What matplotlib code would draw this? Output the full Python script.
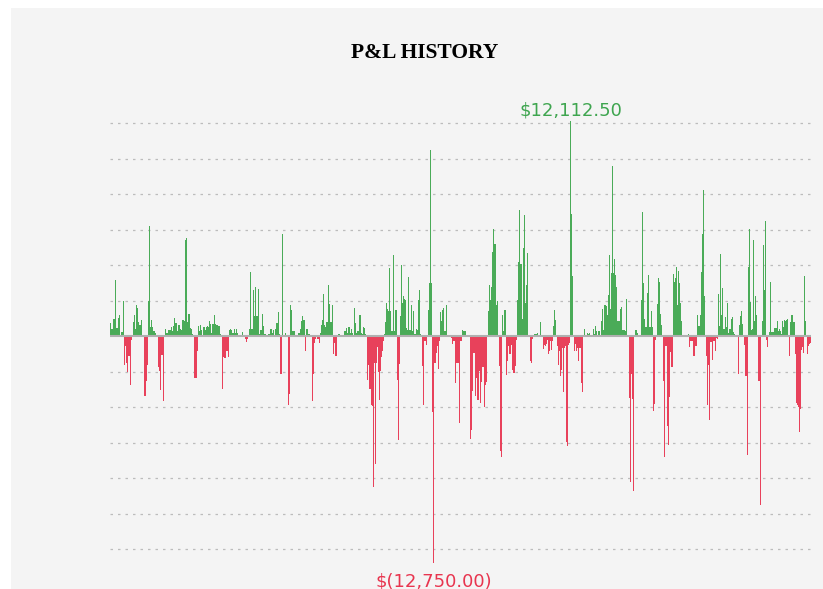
import numpy as np
import matplotlib
matplotlib.use("Agg")
import matplotlib.pyplot as plt
from matplotlib.patches import Rectangle

# ---- data: daily P&L values (USD) left to right ----
pnl_part1 = [
    750, 430, 430, 980, 980, 3180, 470, 470, 1030, 1220, 100, 225, 225, 2010,
    -1640, -530, -1500, -2010, -1130, -1130, -2760, -190, 50,
    810, 1200, 430, 1790, 1620, 790, 660, 660, 920, 90, 0,
    -3380, -3380, -2540, -1600,
    2010, 6190, 510, 920, 545, 320, 280, 190, 90, 60,
    -1750, -1970, -3010, -1070, -1070, -3630, 0,
    430, 190, 190, 360, 360, 360, 510, 280, 560, 1030, 770, 770, 280, 640, 640,
    410, 380, 900, 900, 880, 5430, 5510, 810, 1240, 1240, 470, 410, 130, 60,
    -2350, -2350, -2350, -800,
    580, 280, 620, 375, 60, 545, 510, 375, 510, 560, 510, 880, 700, 190, 700,
    700, 1180, 700, 620, 660, 560, 560, 130, 90,
    -2970, -1180, -1200, -1200,
]
pnl_part2 = [
    -850, -850, -1180,
    340, 430, 340, 190, 190, 430, 190, 430, 190, 60, 60, 60, 60, 225, 60, 90,
    -130, -320, -130, 0,
    430, 3610, 430, 430, 2610, 1150, 2780, 1130, 1130, 2690, 130, 340, 340, 1260,
    560, 130, 130, 60, 40, 130, 130, 430, 430, 190, 340, 90, 430, 750, 750, 1370, 130,
    -2100, -2100,
    5770, 90, 60, 190, 60, 40,
    -3850, -3250,
    1750, 1490, 320, 320, 320, 60, 60, 90, 190, 190, 430, 850, 1130, 920, 900,
    -850,
    410, 410, 130, 130, 90, 90,
    -3630, -2120, -375, -130, 0, -130, -130, -375,
    190, 660, 900, 2400, 660, 545, 810, 810, 2870, 1820, 810, 810, 1750,
    -1000, -375, -1130, -1130, 0,
    130, 130, 60, 60, 0, 0,
]
pnl_part3 = [
    280, 320, 470, 190, 510, 510, 190, 430, 190, 60, 1580, 750, 190, 320, 320,
    1200, 1200, 190, 130, 510, 470, 130, 90,
    -2440, -1600, -2950, -2950, -3890, -3940, -8500, -1500, -7180, -1500, -620,
    -2010, -3570, -1970, -1180, -810, -245,
    130, 810, 1880, 1540, 1450, 3850, 1450, 280, 280, 4570, 280, 1490, 1490,
    -2480, -5830, -1540,
    1130, 4000, 1880, 2260, 2100, 2060, 470, 360, 3360, 360, 360, 1790, 280, 1410,
    130, 130, 430, 360, 2030, 2590, 130, 60,
    -1690, -3850, -245, -245, -470,
    90, 1490, 3010, 10500, 3000,
    -4290, -12750, -1500, -1500, -940, -530, -1820, -245,
    1370, 880, 1490, 1600, 280, 280, 1790, 60, 0, 0, 0,
    -90, -410, -245, -245, -2630, -1500, -1500, -1500, -4890, -245, -245,
]
pnl_part4 = [
    340, 280, 280, 280, 0, 0, 0, 0,
    -5790, -5260, -3060, -940, -940, -3380, -2350, -3570, -3570, -1940, -3760,
    -2600, -1750, -1750, -4000, -2730, -2600,
    0, 1410, 2900, 2030, 2800, 4740, 6020, 5210, 5210, 1750, 1990, 0,
    -1690, -6490, -6810,
    1220, 320, 1470, 1470,
    -2160, -1370, -560, -980, -980, -470, -1880, -2070, -2070, -1690, -225,
    2070, 4190, 7090, 4080, 4080, 1000, 4980, 6860, 1880, 2870, 4700, 60, 60,
    -1370, -1500, -130, 0,
    130, 130, 130, 190, 60, 60, 790, 90, 60,
    -700, -470, -560, -430, -190, -980, -850, -280, -790, -245,
    560, 1490, 940, 60,
    -560, -1640, -810, -2250, -1880, -660, -3140, -660, -560, -5960, -6200, -470, -375,
    12112.5, 6900, 3400, 0,
    -810, -430, -810, -660, -1410, -660,
]
pnl_part5 = [
    -660, -2630, -3160, 0,
    410, 60, 60, 190, 130, 190, 60, 60, 60, 430, 130, 560, 280, 90, 280, 280, 90,
    850, 1560, 360, 1790, 1790, 1690, 1180, 2350, 4570, 1540, 3570, 9590, 3570,
    4340, 3480, 2760, 880, 880, 880, 1560, 1640, 360, 360, 360, 280, 2100, 0, 0,
    -3480, -8230, -2120, -3510, -8700, 0,
    360, 360, 190, 60, 60, 60, 2070, 7010, 2990, 1000, 510, 510, 2440, 3480, 510,
    510, 1450, 510,
    -4230, -3800, -190, 0,
    1840, 3290, 3060, 1260, 660, 0,
    -2500, -6820, -530, -530, -5080, -6110, -3440, -900, -1750, -1750,
    3500, 3060, 3310, 3890, 1790, 3680, 3010, 1880, 880, 60, 60, 60, 60, 60, 0, 130,
    -620, -245, -245, -245, -1130, -1130, -560, -560,
    1180,
]
pnl_part6 = [
    600, 600, 1180, 3630, 5770, 8230, 2290, 60,
    -1130, -3890, -1640, -4700, -320, -320, -1320, -245, -245, -850, -90, -130,
    2390, 580, 4610, 1180, 2730, 430, 430, 1070, 510, 1880, 190, 430, 430, 1000,
    1090, 225, 130, 60, 60, 0,
    -2120,
    660, 1130, 1410, 700, 0,
    -470, -2250, -2250, -6660,
    3910, 6020, 1940, 340, 430, 5430, 850, 2260, 1220, 0,
    -2500, -2500, -9490, 0,
    850, 5170, 2590, 6490,
    -190, -600, 0,
    245, 3080, 245, 245, 245, 470, 470, 470, 880, 280, 430, 280, 130, 880, 510,
    920, 880, 920, 960, 90,
    -1130,
    810, 1220, 1220, 810, 810,
    -1000, -3760, -3890, -3980, -5390, -4120, -750, -620, -940,
    3380, 870, 0,
    -1000, -560, -430, -375,
]

title_text = "P&L HISTORY"
grid_levels = list(range(-12000, 12001, 2000))

pnl = np.array(pnl_part1 + pnl_part2 + pnl_part3 + pnl_part4 + pnl_part5 + pnl_part6, dtype=float)
x = np.arange(len(pnl))

GREEN = "#3ea54f"
RED = "#e8354f"
BAR_GREEN = "#4aab58"
BAR_RED = "#e8415b"
colors = [BAR_GREEN if v >= 0 else BAR_RED for v in pnl]

W, H = 823, 589
fig = plt.figure(figsize=(W / 100, H / 100), dpi=100, facecolor="white")

# grey panel background (behind everything)
fig.patches.append(Rectangle((11 / W, 0), 1 - 11 / W, 1 - 8 / H,
                             transform=fig.transFigure, facecolor="#f4f4f4",
                             edgecolor="none", zorder=-10))

# axes placement (pixel based)
top_px, bot_px = 100, 575
left_px, right_px = 110, 811
ax = fig.add_axes([left_px / W, 1 - bot_px / H, (right_px - left_px) / W, (bot_px - top_px) / H])
ax.set_facecolor("none")
ax.set_zorder(5)

zero_px = 336.3
px_per_usd = 213.0 / 12000.0
ax.set_ylim(-(bot_px - zero_px) / px_per_usd, (zero_px - top_px) / px_per_usd)
ax.set_xlim(-0.5, len(pnl) - 0.5)

ax.bar(x, pnl, width=0.7, color=colors, linewidth=0, zorder=2)

for lvl in grid_levels:
    if lvl == 0:
        continue
    ax.axhline(lvl, color="#bcbcbc", linewidth=0.9, linestyle=(0, (2, 4)), zorder=1)
ax.axhline(0, color="#b0b0b0", linewidth=1.5, zorder=3)

for s in ax.spines.values():
    s.set_visible(False)
ax.set_xticks([])
ax.set_yticks([])

imax = int(np.argmax(pnl))
imin = int(np.argmin(pnl))
ax.annotate(f"${pnl[imax]:,.2f}", xy=(imax, pnl[imax]), xytext=(0, 4),
            textcoords="offset points", ha="center", va="baseline",
            color=GREEN, fontsize=13, family="DejaVu Sans")
ax.annotate(f"$({abs(pnl[imin]):,.2f})", xy=(imin, pnl[imin]), xytext=(0, -7),
            textcoords="offset points", ha="center", va="top",
            color=RED, fontsize=13, family="DejaVu Sans", annotation_clip=False)

fig.text(425 / W, 1 - 53 / H, title_text, ha="center", va="center",
         fontsize=15.5, fontweight="bold", family="Liberation Serif", color="black")

fig.savefig("out.png", dpi=100, facecolor="white")
